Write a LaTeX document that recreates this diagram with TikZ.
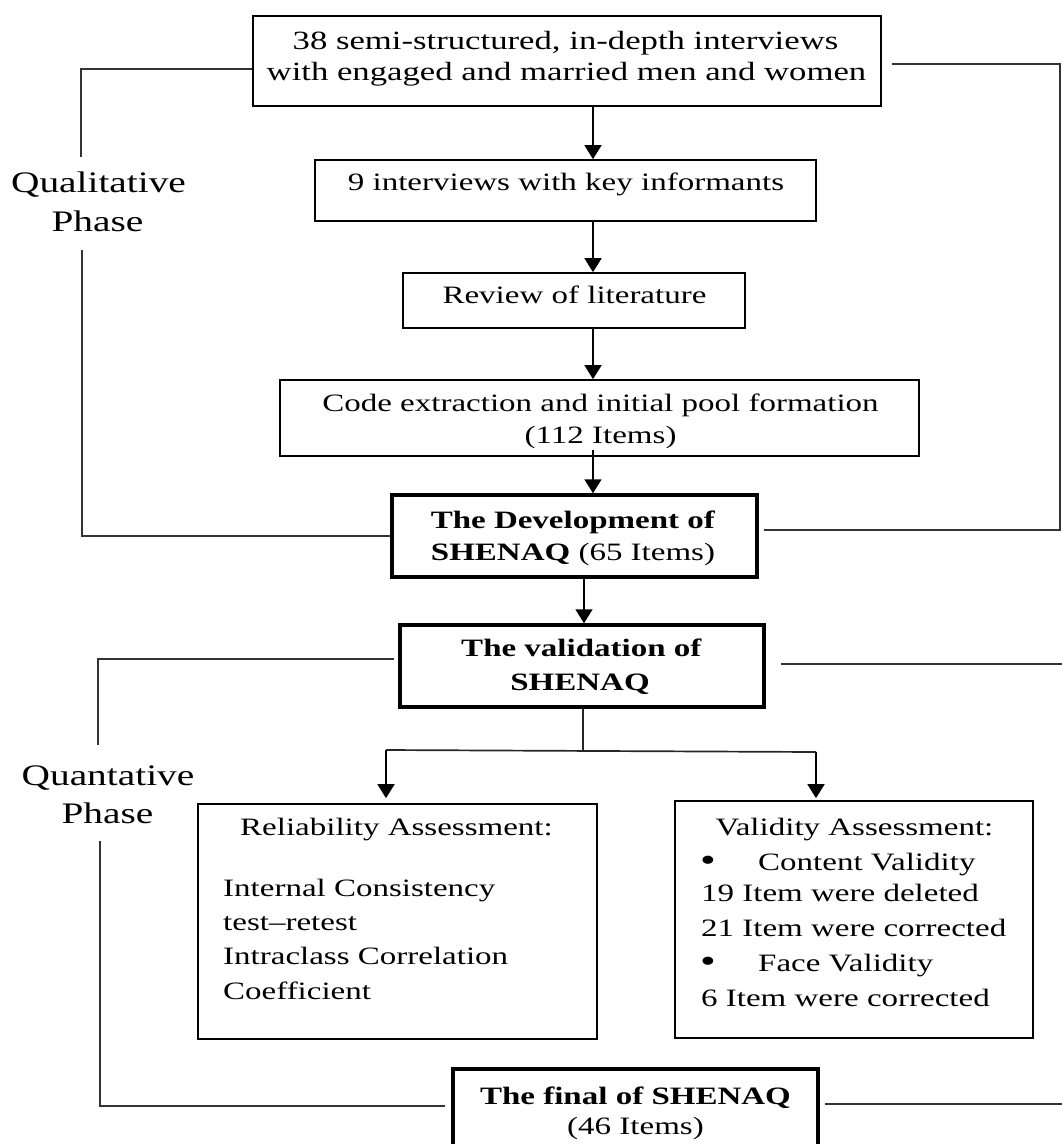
\documentclass[tikz,border=0pt]{standalone}
\usepackage{fontspec}
\setmainfont[FakeStretch=1.32]{Liberation Serif}
\usetikzlibrary{arrows.meta,calc}
\newcommand{\bigbul}{\makebox[58pt][l]{\raisebox{-1pt}{\fontsize{34}{30}\selectfont•}}}
\begin{document}
\begin{tikzpicture}[x=1pt,y=-1pt,
  box/.style={draw=black, line width=1.7pt, inner sep=0pt, rectangle},
  thickbox/.style={draw=black, line width=3.5pt, inner sep=0pt, rectangle},
  txt/.style={inner sep=0pt, anchor=base, font=\fontsize{25}{30}\selectfont},
  ltxt/.style={txt, anchor=base west},
  bigtxt/.style={txt, font=\fontsize{26.3}{30}\selectfont},
  lbl/.style={inner sep=0pt, anchor=base, font=\fontsize{29.8}{36}\selectfont},
  arr/.style={line width=1.7pt, draw=black, -{Triangle[length=14pt,width=17pt]}},
  brk/.style={line width=1.7pt, draw=black!80},
  stem/.style={line width=1.7pt, draw=black!85}]
\useasboundingbox (0,0) rectangle (1062,1144);
\clip (0,0) rectangle (1062,1144);

% boxes
\node[box, minimum width=628pt, minimum height=90pt] (b1) at (567,61) {};
\node[box, minimum width=501pt, minimum height=61pt] (b2) at (565.5,190.5) {};
\node[box, minimum width=342pt, minimum height=55pt] (b3) at (574,300.5) {};
\node[box, minimum width=639pt, minimum height=76pt] (b4) at (599.5,418) {};
\node[thickbox, minimum width=365pt, minimum height=82pt] (b5) at (574.5,536) {};
\node[thickbox, minimum width=364pt, minimum height=82pt] (b6) at (582,666) {};
\node[box, minimum width=399pt, minimum height=235pt] (b7) at (397.5,921.5) {};
\node[box, minimum width=358pt, minimum height=237pt] (b8) at (854,919.5) {};
\node[thickbox, minimum width=365pt, minimum height=112pt] (b9) at (635.5,1125) {};

% texts
\node[bigtxt] (t1a) at (565.5,49) {38 semi-structured, in-depth interviews};
\node[bigtxt] (t1b) at (566.5,80) {with engaged and married men and women};
\node[txt] (t2) at (566,190.7) {9 interviews with key informants};
\node[txt] (t3) at (574.5,303.3) {Review of literature};
\node[txt] (t4a) at (600.5,411.7) {Code extraction and initial pool formation};
\node[txt] (t4b) at (600.6,443) {(112 Items)};
\node[txt] (t5a) at (573,528.3) {\textbf{The Development of}};
\node[txt] (t5b) at (573,560) {\textbf{SHENAQ} (65 Items)};
\node[txt] (t6a) at (581.5,656.7) {\textbf{The validation of}};
\node[txt] (t6b) at (580,690) {\textbf{SHENAQ}};
\node[txt] (t7h) at (396.5,835.7) {Reliability Assessment:};
\node[ltxt] (t7a) at (223,896.7) {Internal Consistency};
\node[ltxt] (t7b) at (223,930.5) {test--retest};
\node[ltxt] (t7c) at (223,964.5) {Intraclass Correlation};
\node[ltxt] (t7d) at (223,999.5) {Coefficient};
\node[txt] (t8h) at (854.5,835) {Validity Assessment:};
\node[ltxt] (t8a) at (700,870) {\bigbul Content Validity};
\node[ltxt] (t8b) at (701,901.7) {19 Item were deleted};
\node[ltxt] (t8c) at (701,936.7) {21 Item were corrected};
\node[ltxt] (t8d) at (700,971.7) {\bigbul Face Validity};
\node[ltxt] (t8e) at (701,1006.7) {6 Item were corrected};
\node[txt] (t9a) at (635.5,1104) {\textbf{The final of SHENAQ}};
\node[txt] (t9b) at (635.5,1134) {(46 Items)};

% phase labels
\node[lbl] (ql1) at (98.5,192.7) {Qualitative};
\node[lbl] (ql2) at (97.5,231.7) {Phase};
\node[lbl] (qn1) at (108,785) {Quantative};
\node[lbl] (qn2) at (107.5,823.3) {Phase};

% arrows of the main chain
\coordinate (ax) at (593,0);
\coordinate (ay) at (584,0);
\draw[arr] (b1.south -| ax) -- (b2.north -| ax);
\draw[arr] (b2.south -| ax) -- (b3.north -| ax);
\draw[arr] (b3.south -| ax) -- (b4.north -| ax);
\draw[arr] ([yshift=7pt]b4.south -| ax) -- (b5.north -| ax);
\draw[arr] (b5.south -| ay) -- (b6.north -| ay);

% split
\coordinate (sp) at (583,750);
\coordinate (al) at (386,750);
\coordinate (ar) at (816,752);
\draw[stem] (b6.south -| sp) -- (sp);
\draw[stem] (al) -- (ar);
\draw[arr] (al) -- ([yshift=5pt]b7.north -| al);
\draw[arr] (ar) -- ([yshift=2pt]b8.north -| ar);

% qualitative bracket
\coordinate (qa) at (81,157);
\coordinate (qb) at (82,250);
\draw[brk] ([yshift=-8pt]b1.west) -| (qa);
\draw[brk] (qb) |- (b5.west);
\coordinate (r1) at (1060,64);
\coordinate (r2) at (1060,530);
\draw[brk] ([xshift=10pt,yshift=-3pt]b1.east) -- (r1) -- (r2) -- ([xshift=5pt,yshift=6pt]b5.east);

% quantitative bracket
\coordinate (na) at (98,745);
\coordinate (nb) at (100,841);
\draw[brk] ([xshift=-4pt,yshift=7pt]b6.west) -| (na);
\draw[brk] (nb) |- ([xshift=-6pt,yshift=19pt]b9.west);
\coordinate (e1) at (1062,664);
\coordinate (e2) at (1062,1104);
\draw[brk] ([xshift=15pt,yshift=2pt]b6.east) -- (e1);
\draw[brk] ([xshift=5pt,yshift=21pt]b9.east) -- (e2);
\end{tikzpicture}
\end{document}
